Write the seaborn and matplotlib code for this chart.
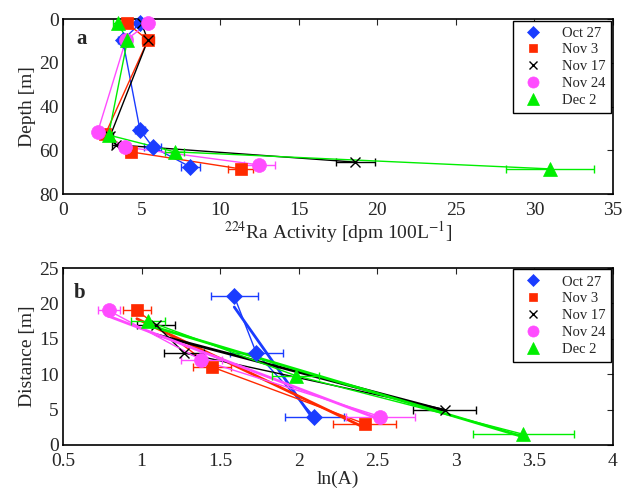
import numpy as np
import pandas as pd
import matplotlib
matplotlib.use("Agg")
import matplotlib.pyplot as plt
import seaborn as sns

# --- Series labels / styles ---
labels = ["Oct 27", "Nov 3", "Nov 17", "Nov 24", "Dec 2"]
colors = ["#1a3cff", "#ff2a00", "#000000", "#ff4cff", "#00ee00"]
markers = ["D", "s", "x", "o", "^"]
msizes = [8, 8, 7, 10, 10]

# --- Panel a: 224Ra activity vs depth ---
depth_a = [
    [2, 9.6, 50.7, 58.4, 67.6],
    [2, 9.6, 52.5, 60.7, 68.5],
    [2, 9.6, 53.5, 57.5, 65.4],
    [2, 9.6, 51.7, 58.5, 66.7],
    [2, 9.6, 53.0, 60.7, 68.5],
]
activity_a = [
    [4.9, 3.8, 4.9, 5.7, 8.1],
    [4.1, 5.4, 2.7, 4.3, 11.3],
    [5.0, 5.4, 3.0, 3.4, 18.6],
    [5.4, 4.0, 2.2, 3.95, 12.5],
    [3.5, 4.1, 2.9, 7.1, 31.0],
]
err_a = [
    [0.3, 0.3, 0.3, 0.55, 0.6],
    [0.3, 0.4, 0.2, 0.3, 0.8],
    [0.3, 0.3, 0.2, 0.3, 1.25],
    [0.3, 0.3, 0.2, 0.3, 1.0],
    [0.3, 0.3, 0.2, 0.6, 2.8],
]

# --- Panel b: distance vs ln(A) ---
lnA_b = [
    [1.59, 1.73, 2.10],
    [0.97, 1.45, 2.42],
    [1.09, 1.27, 2.93],
    [0.79, 1.38, 2.52],
    [1.04, 1.98, 3.43],
]
dist_b = [
    [21.0, 13.0, 4.0],
    [19.0, 11.0, 3.0],
    [17.0, 13.0, 5.0],
    [19.0, 12.0, 4.0],
    [17.5, 9.8, 1.5],
]
err_b = [
    [0.15, 0.17, 0.19],
    [0.09, 0.12, 0.20],
    [0.12, 0.13, 0.20],
    [0.07, 0.13, 0.22],
    [0.11, 0.15, 0.32],
]


def style_axes(ax):
    ax.tick_params(direction="in", top=True, right=True, length=4, labelsize=14)
    ax.tick_params(axis="x", pad=6)
    ax.tick_params(axis="y", pad=3)
    for sp in ax.spines.values():
        sp.set_linewidth(1.2)
        sp.set_color("black")
    ax.grid(False)


def add_legend(ax):
    leg = ax.legend(loc="upper right", fontsize=10.5, frameon=True, fancybox=False,
                    edgecolor="black", framealpha=1, borderpad=0.4, labelspacing=0.25,
                    handletextpad=1.0, borderaxespad=0.1, markerscale=0.8)
    leg.get_frame().set_linewidth(1.0)


def plot_panel_a(ax):
    for i, lab in enumerate(labels):
        df = pd.DataFrame({"act": activity_a[i], "depth": depth_a[i]})
        ax.errorbar(df["act"], df["depth"], xerr=err_a[i], fmt="none",
                    ecolor=colors[i], elinewidth=1, capsize=3, zorder=2)
        sns.lineplot(data=df, x="act", y="depth", sort=False, estimator=None, ax=ax,
                     color=colors[i], linewidth=1, zorder=2)
        ax.plot(df["act"], df["depth"], linestyle="none", marker=markers[i],
                markersize=msizes[i], color=colors[i], label=lab,
                markeredgewidth=1 if markers[i] == "x" else 0.5, zorder=3, clip_on=False)

    ax.set_xlim(0, 35)
    ax.set_ylim(80, 0)
    ax.set_xticks(range(0, 36, 5))
    ax.set_yticks(range(0, 81, 20))
    ax.set_xlabel(r"$^{224}$Ra Activity [dpm 100L$^{-1}$]", fontsize=14, labelpad=0)
    ax.set_ylabel("Depth [m]", fontsize=14, labelpad=2)
    ax.text(0.025, 0.86, "a", transform=ax.transAxes, fontsize=15, fontweight="bold")
    style_axes(ax)
    add_legend(ax)


def plot_panel_b(ax):
    for i, lab in enumerate(labels):
        df = pd.DataFrame({"lnA": lnA_b[i], "dist": dist_b[i]})
        ax.errorbar(df["lnA"], df["dist"], xerr=err_b[i], fmt="none",
                    ecolor=colors[i], elinewidth=1, capsize=3, zorder=2)
        sns.lineplot(data=df, x="lnA", y="dist", sort=False, estimator=None, ax=ax,
                     color=colors[i], linewidth=1, zorder=2)
        # linear fit over data range
        sns.regplot(data=df, x="lnA", y="dist", scatter=False, ci=None, ax=ax,
                    color=colors[i], line_kws={"linewidth": 2, "zorder": 2})
        ax.plot(df["lnA"], df["dist"], linestyle="none", marker=markers[i],
                markersize=msizes[i], color=colors[i], label=lab,
                markeredgewidth=1 if markers[i] == "x" else 0.5, zorder=3)

    ax.set_xlim(0.5, 4)
    ax.set_ylim(0, 25)
    ax.set_xticks([0.5, 1, 1.5, 2, 2.5, 3, 3.5, 4])
    ax.set_xticklabels(["0.5", "1", "1.5", "2", "2.5", "3", "3.5", "4"])
    ax.set_yticks(range(0, 26, 5))
    ax.set_xlabel("ln(A)", fontsize=14, labelpad=0)
    ax.set_ylabel("Distance [m]", fontsize=14, labelpad=2)
    ax.text(0.02, 0.83, "b", transform=ax.transAxes, fontsize=15, fontweight="bold")
    style_axes(ax)
    add_legend(ax)


def main():
    sns.set_style("white")
    plt.rcParams["font.family"] = ["Liberation Serif", "DejaVu Serif"]
    plt.rcParams["mathtext.fontset"] = "stix"

    fig = plt.figure(figsize=(6.27, 4.9), dpi=100)
    ax_a = fig.add_axes([0.1005, 0.604, 0.877, 0.357])
    ax_b = fig.add_axes([0.1005, 0.092, 0.877, 0.361])

    plot_panel_a(ax_a)
    plot_panel_b(ax_b)

    fig.savefig("out.png", dpi=100)
    plt.close(fig)


if __name__ == "__main__":
    main()
